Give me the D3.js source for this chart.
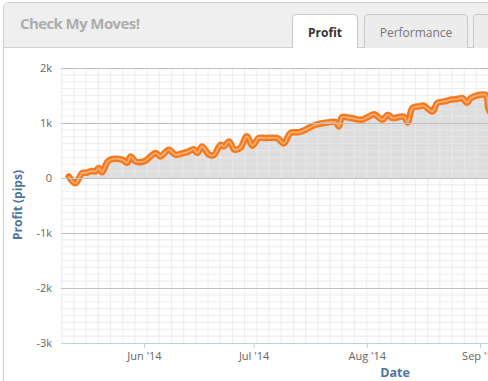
<!DOCTYPE html>
<html><head><meta charset="utf-8">
<script src="https://cdn.jsdelivr.net/npm/d3@7"></script>
<style>
html,body{margin:0;padding:0;background:#fff;overflow:hidden;}
svg{display:block;font-family:"Open Sans",sans-serif;}
</style></head>
<body>
<svg id="c" width="488" height="381"></svg>
<script>
// ---- data ----
const title = "Check My Moves!";
const tabs = ["Profit", "Performance"];
// trade times, in days relative to 1 Jun 2014
const dayOffsets = [-20.6,-18.8,-16.9,-15.7,-14.2,-13.3,-12.4,-11.5,-10.0,-8.8,-6.0,-4.6,-3.7,-2.3,0.0,3.2,4.5,6.8,8.6,10.9,12.3,13.6,14.6,15.9,17.8,19.1,21.0,21.9,23.3,24.8,26.4,28.2,29.7,31.4,33.3,36.5,38.3,40.1,42.4,44.2,47.0,50.2,52.5,53.4,54.2,56.6,59.6,61.6,63.0,65.3,66.8,68.0,71.2,72.2,73.5,75.3,76.6,79.0,80.3,82.6,84.0,85.8,87.2,88.4,89.5,91.7,93.6,94.4,95.5];
const profit = [29,-95,91,96,129,120,182,105,296,342,333,278,393,302,302,455,393,515,424,455,484,524,455,575,424,415,605,575,665,515,551,760,587,727,727,724,629,818,833,878,969,1011,1015,938,1105,1091,1060,1120,1160,1060,1151,1091,1115,1011,1273,1302,1315,1211,1364,1396,1424,1436,1455,1369,1455,1509,1509,1242,1150];
const yTicks = [-3000,-2000,-1000,0,1000,2000];
const xTickMonths = ["2014-06-01","2014-07-01","2014-08-01","2014-09-01"];
const yTitle = "Profit (pips)";
const xTitle = "Date";

const svg = d3.select("#c");
const base = Date.UTC(2014,5,1);
const DAY = 864e5;
const pts = dayOffsets.map((d,i)=>({t:new Date(base + d*DAY), v:profit[i]}));

// ---- panel chrome ----
svg.append("path")
  .attr("d","M3.5,381 L3.5,8 Q3.5,2.5 9,2.5 L488,2.5")
  .attr("fill","none").attr("stroke","#cfcfcf");
svg.append("path")
  .attr("d","M4,381 L4,8 Q4,3 9,3 L488,3 L488,47 L4,47 Z")
  .attr("fill","#efefef");
svg.append("line").attr("x1",4).attr("x2",488).attr("y1",47.5).attr("y2",47.5).attr("stroke","#cfcfcf");
svg.append("text").attr("x",20).attr("y",29).text(title)
  .attr("font-size",15).attr("font-weight","bold").attr("fill","#adadad").attr("letter-spacing","-0.6");

const tabG = svg.append("g");
function tab(x,w,active,label){
  const g = tabG.append("g");
  g.append("path")
   .attr("d",`M${x+0.5},48 L${x+0.5},18 Q${x+0.5},14.5 ${x+4},14.5 L${x+w-4},14.5 Q${x+w-0.5},14.5 ${x+w-0.5},18 L${x+w-0.5},48`)
   .attr("fill",active?"#ffffff":"#ececec").attr("stroke","#c8c8c8");
  if(active) g.append("rect").attr("x",x+1).attr("y",46).attr("width",w-2).attr("height",3).attr("fill","#fff");
  if(label) g.append("text").attr("x",x+w/2).attr("y",37).attr("text-anchor","middle")
    .attr("font-size",12).attr("font-weight",active?"bold":"normal").attr("fill",active?"#333":"#777").text(label);
}
tab(292,66,true,tabs[0]);
tab(364,104,false,tabs[1]);
tab(473,40,false,"");

// ---- scales ----
const plotL = 61, plotR = 530, plotT = 68, plotB = 343;
const x = d3.scaleUtc().domain([new Date(base), new Date(Date.UTC(2014,8,1))]).range([144,480]);
x.domain([x.invert(plotL), x.invert(plotR)]).range([plotL, plotR]);
const y = d3.scaleLinear().domain([-3000,2000]).range([plotB, plotT]);

const curve = d3.curveCatmullRom.alpha(0.5);
const plot = svg.append("g");
// area fill to zero
plot.append("path").datum(pts)
  .attr("d", d3.area().x(d=>x(d.t)).y0(y(0)).y1(d=>y(d.v)).curve(curve))
  .attr("fill","#d8d8d8").attr("fill-opacity",0.85);

// minor grid
const x0 = x.domain()[0].getTime();
const minorX = d3.range(0,45).map(i=>new Date(x0 + i*3.34*DAY)).filter(d=>x(d)<=plotR);
plot.append("g").selectAll("line").data(minorX).join("line")
  .attr("x1",d=>x(d)+0.7).attr("x2",d=>x(d)+0.7).attr("y1",plotT).attr("y2",plotB)
  .attr("stroke","#e8e8e8").attr("stroke-width",1.2).attr("stroke-opacity",0.7);
const minorY = d3.range(-3000,2001,125).filter(v=>v%1000!==0);
plot.append("g").selectAll("line").data(minorY).join("line")
  .attr("x1",plotL).attr("x2",plotR).attr("y1",d=>y(d)).attr("y2",d=>y(d))
  .attr("stroke","#e8e8e8").attr("stroke-width",1.2).attr("stroke-opacity",0.7);

// major y grid + labels
const yAxis = d3.axisLeft(y).tickValues(yTicks).tickSize(-(plotR-plotL)).tickPadding(9)
  .tickFormat(v=> v===0 ? "0" : (v/1000)+"k");
const yg = svg.append("g").attr("transform",`translate(${plotL},0)`).call(yAxis);
yg.select(".domain").remove();
yg.selectAll(".tick line").attr("stroke","#c0c0c0").attr("shape-rendering","crispEdges");
yg.selectAll(".tick text").attr("font-size",11).attr("fill","#666").attr("font-family","Open Sans, sans-serif");

// x axis
const xAxis = d3.axisBottom(x).tickValues(xTickMonths.map(s=>new Date(s+"T00:00:00Z")))
  .tickSize(5).tickPadding(4).tickFormat(d3.utcFormat("%b '%y"));
const xg = svg.append("g").attr("transform",`translate(0,${plotB})`).call(xAxis);
xg.select(".domain").attr("d",`M${plotL},0.5H${plotR}`).attr("stroke","#c0d0e0");
xg.selectAll(".tick line").attr("stroke","#c0d0e0");
xg.selectAll(".tick text").attr("font-size",11).attr("fill","#666").attr("font-family","Open Sans, sans-serif");

// line
const lineGen = d3.line().x(d=>x(d.t)).y(d=>y(d.v)).curve(curve);
plot.append("path").datum(pts).attr("d",lineGen).attr("fill","none")
  .attr("stroke","#f4791f").attr("stroke-width",6.5).attr("stroke-linejoin","round").attr("stroke-linecap","round");
plot.append("path").datum(pts).attr("d",lineGen).attr("fill","none")
  .attr("stroke","#fbb27a").attr("stroke-width",1.6).attr("stroke-linejoin","round");

// titles
svg.append("text").attr("x",395).attr("y",377).attr("text-anchor","middle")
  .attr("font-size",12.5).attr("font-weight","bold").attr("fill","#4d759e").text(xTitle);
svg.append("text").attr("transform","translate(22,205) rotate(-90)").attr("text-anchor","middle")
  .attr("font-size",12).attr("font-weight","bold").attr("fill","#4d759e").text(yTitle);
</script>
</body></html>
